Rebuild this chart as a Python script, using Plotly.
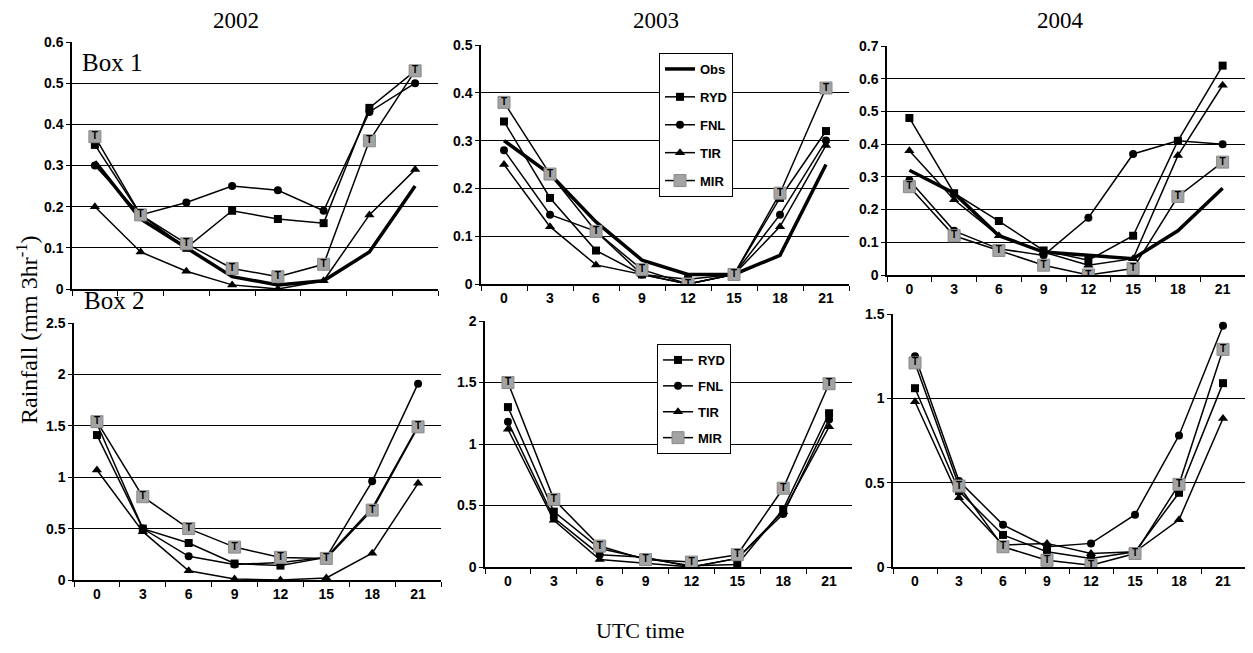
import plotly.graph_objects as go

hours = ["0", "3", "6", "9", "12", "15", "18", "21"]
series_names = ["Obs", "RYD", "FNL", "TIR", "MIR"]
years = ["2002", "2003", "2004"]

# Box 1 (top row)
box1_2002 = {
    "Obs": [0.31, 0.17, 0.10, 0.03, 0.01, 0.02, 0.09, 0.25],
    "RYD": [0.35, 0.18, 0.10, 0.19, 0.17, 0.16, 0.44, 0.53],
    "FNL": [0.30, 0.18, 0.21, 0.25, 0.24, 0.19, 0.43, 0.50],
    "TIR": [0.20, 0.09, 0.043, 0.01, 0.0, 0.02, 0.18, 0.29],
    "MIR": [0.37, 0.18, 0.11, 0.05, 0.03, 0.06, 0.36, 0.53],
}
box1_2003 = {
    "Obs": [0.30, 0.23, 0.13, 0.05, 0.02, 0.02, 0.06, 0.25],
    "RYD": [0.34, 0.18, 0.07, 0.02, 0.01, 0.02, 0.18, 0.32],
    "FNL": [0.28, 0.145, 0.11, 0.02, 0.0, 0.02, 0.145, 0.30],
    "TIR": [0.25, 0.12, 0.04, 0.02, 0.0, 0.02, 0.12, 0.29],
    "MIR": [0.38, 0.23, 0.11, 0.03, 0.0, 0.02, 0.19, 0.41],
}
box1_2004 = {
    "Obs": [0.32, 0.25, 0.12, 0.07, 0.06, 0.05, 0.135, 0.265],
    "RYD": [0.48, 0.25, 0.165, 0.075, 0.045, 0.12, 0.41, 0.64],
    "FNL": [0.29, 0.135, 0.08, 0.06, 0.175, 0.37, 0.41, 0.40],
    "TIR": [0.38, 0.23, 0.12, 0.07, 0.03, 0.05, 0.365, 0.58],
    "MIR": [0.27, 0.12, 0.075, 0.03, 0.0, 0.02, 0.24, 0.345],
}
# Box 2 (bottom row)
box2_2002 = {
    "RYD": [1.41, 0.50, 0.36, 0.16, 0.14, 0.22, 0.70, 1.50],
    "FNL": [1.52, 0.50, 0.23, 0.15, 0.17, 0.22, 0.96, 1.91],
    "TIR": [1.07, 0.47, 0.09, 0.01, 0.0, 0.02, 0.26, 0.94],
    "MIR": [1.54, 0.81, 0.50, 0.32, 0.22, 0.21, 0.68, 1.49],
}
box2_2003 = {
    "RYD": [1.30, 0.45, 0.15, 0.07, 0.01, 0.02, 0.47, 1.25],
    "FNL": [1.18, 0.40, 0.10, 0.08, 0.0, 0.07, 0.43, 1.20],
    "TIR": [1.12, 0.38, 0.06, 0.03, 0.0, 0.07, 0.45, 1.14],
    "MIR": [1.50, 0.55, 0.17, 0.06, 0.04, 0.10, 0.64, 1.49],
}
box2_2004 = {
    "RYD": [1.06, 0.45, 0.19, 0.09, 0.05, 0.09, 0.44, 1.09],
    "FNL": [1.25, 0.51, 0.25, 0.12, 0.14, 0.31, 0.78, 1.43],
    "TIR": [0.98, 0.41, 0.13, 0.14, 0.08, 0.09, 0.28, 0.88],
    "MIR": [1.21, 0.48, 0.12, 0.04, 0.01, 0.08, 0.49, 1.29],
}
y_ranges = [(0, 0.6, 0.1), (0, 0.5, 0.1), (0, 0.7, 0.1), (0, 2.5, 0.5), (0, 2.0, 0.5), (0, 1.5, 0.5)]

# The page body has an 8px default margin; size the figure so the page fits the window.
OFF = 8
W, H = 1253 - 2 * OFF, 653 - 2 * OFF


def px(x):
    return min(max((x - OFF) / W, 0), 1)


def py(y):
    return min(max(1 - (y - OFF) / H, 0), 1)


# panel pixel boxes in the window: (x0, x1, ytop, ybottom)
boxes = [
    (72, 438, 42, 289), (481, 849, 45, 284), (887, 1250, 46, 275),
    (74, 441, 323, 580), (485, 852, 321, 567), (893, 1250, 314, 567),
]
panels = [box1_2002, box1_2003, box1_2004, box2_2002, box2_2003, box2_2004]

styles = {
    "Obs": dict(line=dict(color="black", width=3.5), mode="lines", marker=dict()),
    "RYD": dict(line=dict(color="black", width=1.5), mode="lines+markers",
                marker=dict(symbol="square", size=8, color="black")),
    "FNL": dict(line=dict(color="black", width=1.5), mode="lines+markers",
                marker=dict(symbol="circle", size=8, color="black")),
    "TIR": dict(line=dict(color="black", width=1.5), mode="lines+markers",
                marker=dict(symbol="triangle-up", size=9, color="black")),
    "MIR": dict(line=dict(color="black", width=1.5), mode="lines+markers",
                marker=dict(symbol="square", size=12, color="#a3a3a3",
                            line=dict(color="#8a8a8a", width=1))),
}

fig = go.Figure()
tickfont = dict(family="Liberation Sans Narrow, Arial Narrow, Liberation Sans, Arial", size=14,
                color="black", weight="bold")

for i, (data, bx) in enumerate(zip(panels, boxes)):
    n = i + 1
    xa = "x" if n == 1 else f"x{n}"
    ya = "y" if n == 1 else f"y{n}"
    legend_name = "legend" if i == 1 else ("legend2" if i == 4 else None)
    for name in series_names:
        if name not in data:
            continue
        st = styles[name]
        fig.add_trace(go.Scatter(
            x=hours, y=data[name], name=name, mode=st["mode"],
            line=st["line"], marker=st["marker"], xaxis=xa, yaxis=ya,
            showlegend=legend_name is not None,
            legend=legend_name if legend_name else "legend",
            legendgroup=(name + str(i)) if legend_name else None,
        ))
        if name == "MIR":
            fig.add_trace(go.Scatter(
                x=hours, y=data[name], mode="text", text=["T"] * len(hours),
                textposition="middle center",
                textfont=dict(family="Liberation Sans", size=10, color="black", weight="bold"),
                xaxis=xa, yaxis=ya, showlegend=False, hoverinfo="skip",
            ))
    x0, x1, yt, yb = bx
    lo, hi, dt = y_ranges[i]
    fig.layout[f"xaxis{'' if n == 1 else n}"] = dict(
        domain=[px(x0), px(x1)], anchor=ya, type="category",
        range=[-0.5, 7.5], tickson="boundaries", ticks="outside", ticklen=5,
        tickcolor="black", showline=True, linecolor="black", linewidth=1.5,
        showgrid=False, tickfont=tickfont, showticklabels=(i != 0),
    )
    fig.layout[f"yaxis{'' if n == 1 else n}"] = dict(
        domain=[py(yb), py(yt)], anchor=xa, range=[lo, hi + 1e-6],
        dtick=dt, tick0=0, ticks="outside", ticklen=4, tickcolor="black",
        showline=True, linecolor="black", linewidth=1.5, showgrid=True,
        gridcolor="black", gridwidth=1, zeroline=False, tickfont=tickfont,
    )

serif = "Liberation Serif, Times New Roman, serif"
annotations = []
for yr, cx in zip(years, [236, 656, 1060]):
    annotations.append(dict(text=yr, x=px(cx), y=py(20), xref="paper", yref="paper",
                            xanchor="center", yanchor="middle", showarrow=False,
                            font=dict(family=serif, size=23, color="black")))
annotations.append(dict(text="Box 1", x=px(80), y=py(62), xref="paper", yref="paper",
                        xanchor="left", yanchor="middle", showarrow=False,
                        font=dict(family=serif, size=25, color="black")))
annotations.append(dict(text="Box 2", x=px(82), y=py(300), xref="paper", yref="paper",
                        xanchor="left", yanchor="middle", showarrow=False,
                        font=dict(family=serif, size=25, color="black")))
annotations.append(dict(text="Rainfall (mm 3hr<sup>-1</sup>)", x=px(27), y=py(330), xref="paper",
                        yref="paper", xanchor="center", yanchor="middle", textangle=-90,
                        showarrow=False, font=dict(family=serif, size=24, color="black")))
annotations.append(dict(text="UTC time", x=px(640), y=py(630), xref="paper", yref="paper",
                        xanchor="center", yanchor="middle", showarrow=False,
                        font=dict(family=serif, size=22, color="black")))

legfont = dict(family="Liberation Sans Narrow, Arial Narrow, Liberation Sans", size=13, color="black",
               weight="bold")
fig.update_layout(
    width=W, height=H, margin=dict(l=0, r=0, t=0, b=0, pad=0, autoexpand=False),
    paper_bgcolor="white", plot_bgcolor="white",
    annotations=annotations,
    legend=dict(x=px(659), y=py(53), xanchor="left", yanchor="top", bordercolor="black",
                borderwidth=1, bgcolor="white", font=legfont, itemwidth=30, tracegroupgap=8),
    legend2=dict(x=px(657), y=py(344), xanchor="left", yanchor="top", bordercolor="black",
                 borderwidth=1, bgcolor="white", font=legfont, itemwidth=30, tracegroupgap=6),
)

fig.write_html("out.html", config={"displayModeBar": False})
